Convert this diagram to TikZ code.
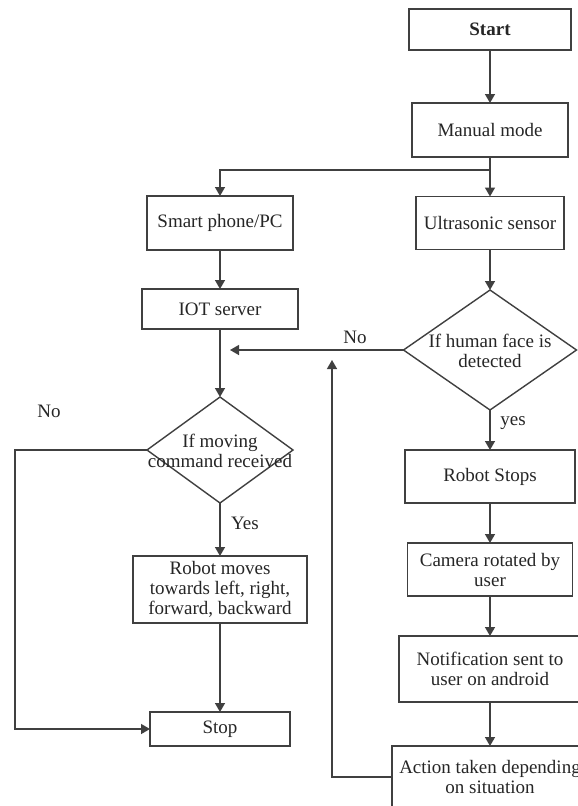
\documentclass[tikz,border=0pt]{standalone}
\usepackage{fontspec}
\setmainfont{Liberation Serif}
\usetikzlibrary{arrows.meta,shapes.geometric}
\begin{document}
\begin{tikzpicture}[x=1pt,y=-1pt,
  every node/.style={font=\fontsize{19}{20}\selectfont, text=black!85},
  stepbox/.style={draw=black!75, line width=1.4pt, rectangle, inner sep=0pt, outer sep=0pt, align=center},
  decision/.style={draw=black!75, line width=1.4pt, diamond, inner sep=0pt, outer sep=0pt},
  plain/.style={inner sep=0pt, align=center},
  flow/.style={draw=black!75, line width=1.4pt, -{Triangle[width=10pt,length=9pt]}},
  wire/.style={draw=black!75, line width=1.4pt}]
\useasboundingbox (0,0) rectangle (578,806);
\fill[white] (0,0) rectangle (578,806);

% right column
\node[stepbox, minimum width=162pt, minimum height=41pt] (start) at (490,29.5) {\bfseries Start};
\node[stepbox, minimum width=156pt, minimum height=54pt] (manual) at (490,130) {Manual mode};
\node[stepbox, minimum width=148pt, minimum height=53pt] (ultra) at (490,223) {Ultrasonic sensor};
\node[decision, minimum width=173pt, minimum height=120pt] (d1) at (490,350) {};
\node[plain] (d1text) at (490,351) {If human face is\\detected};
\node[stepbox, minimum width=170pt, minimum height=53pt] (rstop) at (490,476.5) {Robot Stops};
\node[stepbox, minimum width=165pt, minimum height=53pt] (cam) at (490,569.5) {Camera rotated by\\user};
\node[stepbox, minimum width=182pt, minimum height=66pt] (notif) at (490,669) {Notification sent to\\user on android};
\node[stepbox, minimum width=196pt, minimum height=62pt, text depth=0pt] (action) at (490,777) {Action taken depending\\on situation};

% left column
\node[stepbox, minimum width=146pt, minimum height=54pt] (smart) at (220,223) {Smart phone/PC};
\node[stepbox, minimum width=156pt, minimum height=40pt] (iot) at (220,309) {IOT server};
\node[decision, minimum width=146pt, minimum height=106pt] (d2) at (220,450) {};
\node[plain] (d2text) at (220,451) {If moving\\command received};
\node[stepbox, minimum width=174pt, minimum height=67pt] (rmove) at (220,589.5) {Robot moves\\towards left, right,\\forward, backward};
\node[stepbox, minimum width=140pt, minimum height=34pt] (stop) at (220,729) {Stop};

% labels
\node[plain] (lno1) at (355,337) {No};
\node[plain] (lno2) at (49,411) {No};
\node[plain] (lyes1) at (513,423) {yes};
\node[plain] (lyes2) at (245,523) {Yes};

% helper coordinates
\coordinate (br) at (490,170);
\coordinate (noend) at (230,350);
\coordinate (lc) at (15,450);
\coordinate (rettip) at (332,360);

% connectors
\draw[flow] (start) -- (manual);
\draw[flow] (manual) -- (ultra);
\draw[flow] (br) -| (smart.north);
\draw[flow] (smart) -- (iot);
\draw[flow] (ultra) -- (d1.north);
\draw[flow] (iot) -- (d2.north);
\draw[flow] (d1.west) -- (noend);
\draw[flow] (d1.south) -- (rstop);
\draw[flow] (rstop) -- (cam);
\draw[flow] (cam) -- (notif);
\draw[flow] (notif) -- (action);
\draw[flow] (d2.south) -- (rmove);
\draw[flow] (rmove) -- (stop);
\draw[flow] (d2.west) -- (lc) |- (stop.west);
\draw[flow] (action.west) -| (rettip);
\end{tikzpicture}
\end{document}
